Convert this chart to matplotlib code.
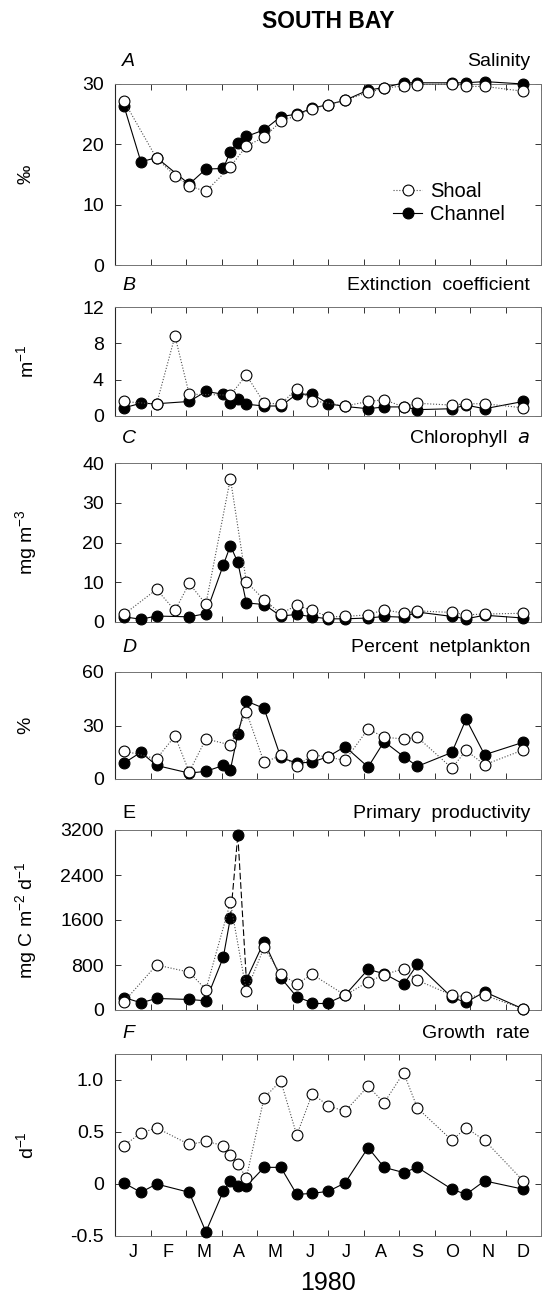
import numpy as np
import matplotlib
matplotlib.use("Agg")
import matplotlib.pyplot as plt

nan = np.nan

# sampling dates in months from 1 Jan 1980
dates = [0.25, 0.73, 1.17, 1.69, 2.09, 2.56, 3.05, 3.25, 3.46, 3.70, 4.20, 4.67,
         5.12, 5.56, 6.01, 6.48, 7.13, 7.58, 8.13, 8.52, 9.49, 9.89, 10.41, 11.50]
months = ["J", "F", "M", "A", "M", "J", "J", "A", "S", "O", "N", "D"]

salinity_shoal = [27.2, nan, 17.7, 14.8, 13.1, 12.2, nan, 16.3, nan, 19.7, 21.2, 23.8,
                  24.8, 25.9, 26.6, 27.3, 28.6, 29.3, 29.7, 29.9, 30.0, 29.6, 29.6, 28.8]
salinity_channel = [26.4, 17.1, 17.8, nan, 13.4, 15.9, 16.0, 18.8, 20.3, 21.3, 22.4, 24.6,
                    25.0, 26.0, 26.6, 27.3, 29.0, 29.4, 30.2, 30.2, 30.2, 30.2, 30.4, 30.0]

extinction_shoal = [1.6, nan, 1.3, 8.8, 2.4, nan, nan, 2.3, nan, 4.5, 1.45, 1.3,
                    3.0, 1.7, nan, 1.1, 1.6, 1.8, 1.0, 1.4, 1.2, 1.35, 1.35, 0.9]
extinction_channel = [0.9, 1.4, 1.35, nan, 1.6, 2.7, 2.4, 1.45, 1.9, 1.3, 1.1, 1.1,
                      2.4, 2.4, 1.35, 1.05, 0.8, 1.0, 1.0, 0.7, 0.8, 1.2, 0.8, 1.6]

chl_shoal = [1.9, nan, 8.2, 2.9, 9.7, 4.5, nan, 36.1, nan, 10.1, 5.6, 2.1,
             4.2, 2.9, 1.3, 1.4, 1.8, 3.1, 2.2, 2.8, 2.4, 1.8, 2.0, 2.2]
chl_channel = [1.3, 0.7, 1.5, nan, 1.3, 2.1, 14.3, 19.2, 15.0, 4.8, 4.4, 1.5,
               1.9, 1.3, 0.8, 0.8, 1.0, 1.4, 1.2, 2.5, 1.4, 0.8, 1.7, 1.0]

netplankton_shoal = [15.8, nan, 11.3, 24.1, 3.9, 22.5, nan, 19.1, nan, 37.7, 9.3, 13.2,
                     7.1, 13.6, 12.3, 10.4, 28.1, 23.4, 22.5, 23.4, 6.1, 16.0, 8.0, 16.3]
netplankton_channel = [8.9, 15.0, 7.6, nan, 3.3, 4.3, 7.6, 5.2, 25.1, 43.7, 39.6, 12.1,
                       8.9, 9.5, 12.6, 18.2, 6.7, 21.0, 12.6, 7.1, 14.9, 33.6, 13.6, 20.6]

prod_shoal = [146, nan, 801, nan, 673, 363, nan, 1913, nan, 339, 1112, 632,
              468, 632, nan, 264, 499, 628, 734, 528, 264, 235, 264, 18]
prod_channel = [222, 129, 205, nan, 187, 164, 936, 1638, 3110, 538, 1217, 573,
                234, 129, 129, 264, 722, 646, 458, 810, 223, 135, 323, 18]

growth_shoal = [0.37, 0.49, 0.54, nan, 0.38, 0.41, 0.37, 0.28, 0.19, 0.06, 0.83, 0.99,
                0.47, 0.87, 0.75, 0.70, 0.94, 0.78, 1.07, 0.73, 0.42, 0.54, 0.42, 0.03]
growth_channel = [0.01, -0.08, 0.0, nan, -0.08, -0.46, -0.07, 0.03, -0.02, -0.02, 0.16, 0.16,
                  -0.10, -0.09, -0.07, 0.01, 0.35, 0.16, 0.11, 0.16, -0.05, -0.10, 0.03, -0.05]

plt.rcParams["font.family"] = ["Liberation Sans", "DejaVu Sans"]
plt.rcParams["mathtext.default"] = "regular"
plt.rcParams["axes.unicode_minus"] = False

W, H = 543, 1296
fig = plt.figure(figsize=(W / 100, H / 100), dpi=100)

# letter, italic, title, ylabel, shoal, channel, ylim, yticks, ticklabels, top px, bottom px, text px
panels = [
    ("A", True, "Salinity", "‰", salinity_shoal, salinity_channel,
     (0, 30), [0, 10, 20, 30], ["0", "10", "20", "30"], 84, 265, 62),
    ("B", True, "Extinction  coefficient", "m$^{-1}$", extinction_shoal, extinction_channel,
     (0, 12), [0, 4, 8, 12], ["0", "4", "8", "12"], 307, 416, 286),
    ("C", True, "Chlorophyll  $\\mathit{a}$", "mg m$^{-3}$", chl_shoal, chl_channel,
     (0, 40), [0, 10, 20, 30, 40], ["0", "10", "20", "30", "40"], 463, 622, 438),
    ("D", True, "Percent  netplankton", "%", netplankton_shoal, netplankton_channel,
     (0, 60), [0, 30, 60], ["0", "30", "60"], 672, 779, 648),
    ("E", False, "Primary  productivity", "mg C m$^{-2}$ d$^{-1}$", prod_shoal, prod_channel,
     (0, 3200), [0, 800, 1600, 2400, 3200], ["0", "800", "1600", "2400", "3200"], 830, 1010, 813),
    ("F", True, "Growth  rate", "d$^{-1}$", growth_shoal, growth_channel,
     (-0.5, 1.25), [-0.5, 0, 0.5, 1.0], ["-0.5", "0", "0.5", "1.0"], 1054, 1236, 1033),
]

x = np.array(dates)
x0, xw = 115, 426
mk = dict(marker="o", ms=7.8, mec="black", mew=0.8, clip_on=False)

for i, (letter, ital, title, ylab, shoal, chan, ylim, yt, ytl, top, bot, ty) in enumerate(panels):
    ax = fig.add_axes([x0 / W, 1 - bot / H, xw / W, (bot - top) / H])
    s = np.array(shoal, dtype=float)
    c = np.array(chan, dtype=float)
    ms = ~np.isnan(s)
    mc = ~np.isnan(c)
    xc, yc = x[mc], c[mc]

    if letter == "E":
        # the channel trace around the April bloom peak is drawn dashed in the original
        peak = np.argmax(yc)
        for j in range(len(xc) - 1):
            ls = (0, (6, 2.5)) if j in (peak - 1, peak) else "-"
            ax.plot(xc[j:j + 2], yc[j:j + 2], ls=ls, color="black", lw=0.8,
                    clip_on=False, zorder=3)
        ax.plot(xc, yc, ls="none", mfc="black", zorder=3, label="Channel", **mk)
    else:
        ax.plot(xc, yc, "-", color="black", lw=0.8, mfc="black", zorder=3,
                label="Channel", **mk)
    ax.plot(x[ms], s[ms], color="0.3", lw=0.8, ls=(0, (1, 1.6)), mfc="white",
            zorder=4, label="Shoal", **mk)

    ax.set_xlim(0, 12)
    ax.set_ylim(*ylim)
    ax.set_yticks(yt)
    ax.set_yticklabels(ytl)
    ax.set_xticks(np.arange(0, 13))
    ax.set_xticklabels([])
    ax.tick_params(axis="both", which="major", direction="in", length=4, width=0.7,
                   top=True, right=True, labelsize=14, pad=8, color="0.2")
    if i == len(panels) - 1:
        ax.set_xticks(np.arange(12) + 0.5, minor=True)
        ax.set_xticklabels(months, minor=True)
        ax.tick_params(axis="x", which="minor", length=0, labelsize=13, pad=6)
    for side in ["top", "bottom", "right"]:
        ax.spines[side].set_color("0.45")
        ax.spines[side].set_linewidth(0.7)
    ax.spines["left"].set_color("0.15")
    ax.spines["left"].set_linewidth(0.8)

    fig.text(122 / W, 1 - ty / H, letter, ha="left", va="center", fontsize=14,
             style="italic" if ital else "normal")
    fig.text(530 / W, 1 - ty / H, title, ha="right", va="center", fontsize=14)
    fig.text(26 / W, 1 - (top + bot) / 2 / H, ylab, ha="center", va="center",
             rotation=90, fontsize=14)

    if i == 0:
        handles, labels = ax.get_legend_handles_labels()
        ax.legend(handles[::-1], labels[::-1], loc="center left", bbox_to_anchor=(0.63, 0.34),
                  frameon=False, fontsize=14.5, handlelength=1.4, handletextpad=0.4,
                  labelspacing=0.2, borderpad=0)

fig.text((x0 + xw / 2) / W, 1 - 22 / H, "SOUTH BAY", ha="center", va="center",
         fontsize=16.5, fontweight="bold")
fig.text((x0 + xw / 2) / W, 1 - 1283 / H, "1980", ha="center", va="center", fontsize=18)

fig.savefig("out.png", dpi=100)
